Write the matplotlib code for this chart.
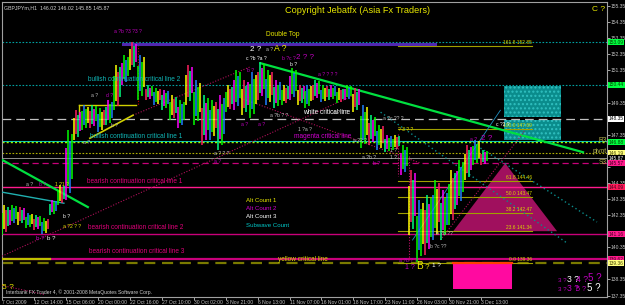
import numpy as np
import matplotlib
matplotlib.use("Agg")
import matplotlib.pyplot as plt
from matplotlib.transforms import blended_transform_factory
from matplotlib.patches import Polygon, Rectangle

plt.rcParams["font.family"] = ["Liberation Sans", "DejaVu Sans"]

# ---------------- data ----------------
# one bin = 16 hourly bars, high / low of each bin
bin_high = [142.97, 142.97, 142.85, 142.47, 142.35, 142.16, 143.28, 144.21, 147.63, 148.87,
            149.18, 149.18, 148.99, 149.49, 151.67, 152.29, 153.10, 152.29, 150.42, 150.24,
            150.11, 149.80, 149.49, 151.67, 150.73, 149.80, 149.49, 149.80, 150.42, 151.36,
            150.73, 151.23, 151.85, 151.36, 150.73, 150.42, 151.48, 150.42, 150.42, 150.73,
            150.42, 150.42, 150.24, 150.42, 150.24, 149.18, 148.56, 147.94, 147.32, 147.32,
            146.70, 145.14, 143.28, 143.59, 144.52, 143.90, 145.14, 145.77, 146.70, 147.01,
            146.39]
bin_low = [141.11, 141.73, 141.73, 141.54, 141.42, 141.17, 142.35, 142.97, 143.28, 147.01,
           147.63, 147.75, 147.50, 147.94, 148.87, 150.42, 151.36, 149.49, 149.49, 149.18,
           148.87, 148.25, 147.75, 149.18, 147.94, 146.70, 147.01, 146.39, 148.75, 148.87,
           148.56, 148.37, 149.49, 149.18, 148.99, 149.18, 149.49, 149.18, 148.99, 149.49,
           149.37, 149.49, 149.31, 149.49, 148.75, 146.51, 146.70, 146.39, 146.26, 146.39,
           144.83, 141.11, 139.43, 139.86, 140.80, 140.80, 141.73, 142.97, 144.52, 145.45,
           145.45]

date_labels = ["7 Oct 2009", "12 Oct 14:00", "15 Oct 06:00", "20 Oct 00:00", "22 Oct 16:00",
               "27 Oct 10:00", "30 Oct 02:00", "3 Nov 21:00", "6 Nov 13:00", "11 Nov 07:00",
               "16 Nov 01:00", "18 Nov 17:00", "23 Nov 11:00", "26 Nov 03:00", "30 Nov 21:00",
               "3 Dec 13:00"]
price_ticks = [155.35, 154.35, 153.35, 152.35, 151.35, 150.35, 149.35, 148.35, 147.35,
               146.35, 145.35, 144.35, 143.35, 142.35, 141.35, 140.35, 139.35, 138.35, 137.35]

# full-width horizontal levels: price, colour, style, width
h_levels = [
    (153.09, "#00a0a0", (0, (1.5, 1.5)), 0.8),
    (150.44, "#00a0a0", (0, (1.5, 1.5)), 0.8),
    (148.35, "#c0c0c0", (0, (7, 4)), 0.9),
    (146.94, "#00c8c8", "-", 0.7),
    (146.88, "#9aff00", (0, (1.5, 1.5)), 1.0),
    (146.19, "#b0b000", (0, (1.5, 1.5)), 0.8),
    (145.87, "#909090", "-", 0.7),
    (145.57, "#c8007a", (0, (5, 3)), 0.9),
    (144.09, "#ff1a8c", "-", 1.0),
    (141.16, "#c8007a", "-", 1.0),
    (139.62, "#c8007a", "-", 1.6),
    (139.36, "#7a7a00", (0, (5, 3)), 1.6),
]
# price labels boxed on the right axis: price, text, face colour, text colour
axis_boxes = [
    (153.09, "153.09", "#00ff40", "#004000"),
    (150.44, "150.44", "#00ff40", "#004000"),
    (148.35, "148.35", "#ffffff", "#000000"),
    (146.88, "146.88", "#00ff40", "#004000"),
    (146.19, "146.19", "#ffff80", "#404000"),
    (145.87, "145.87", "#000000", "#ffffff"),
    (145.57, "145.57", "#ff1a8c", "#400020"),
    (144.09, "144.09", "#ff1a5a", "#400020"),
    (141.16, "141.16", "#ff1a8c", "#400020"),
    (139.62, "139.62", "#ff1a8c", "#400020"),
    (139.36, "139.36", "#ffff80", "#404000"),
]

# fibonacci levels drawn between x 49.6 and 66.4
fib_ratio = ["161.8", "100.0", "61.8", "50.0", "38.2", "23.6", "0.0"]
fib_price = [152.85, 147.69, 144.46, 143.47, 142.47, 141.34, 139.36]

# trend lines: (x0, p0, x1, p1, colour, style, width)
trend_lines = [
    (32.4, 151.79, 72.75, 146.26, "#00e040", "-", 1.6),
    (0.1, 145.76, 10.75, 142.85, "#00e040", "-", 1.6),
    (0.1, 143.77, 7.75, 143.09, "#20b0b0", "-", 1.0),
    (0.0, 139.80, 44.0, 149.80, "#b0105a", (0, (1, 1.5)), 0.8),
    (16.4, 148.56, 31.0, 151.55, "#b0105a", (0, (1, 1.5)), 0.8),
    (29.9, 149.62, 52.4, 145.58, "#b0105a", (0, (1, 1.5)), 0.8),
    (0.0, 137.98, 5.4, 137.40, "#b0105a", (0, (1, 1.5)), 0.8),
    (54.9, 140.80, 65.5, 147.63, "#b0105a", (0, (1, 1.5)), 0.8),
    (47.4, 148.75, 70.75, 140.61, "#0a8a8a", (0, (1, 2)), 1.0),
    (59.9, 146.52, 74.5, 141.92, "#0a8a8a", (0, (1, 2)), 1.0),
    (51.4, 140.80, 62.4, 148.87, "#2090c0", "-", 0.6),
    (17.0, 153.10, 17.0, 149.20, "#c00000", (0, (1, 1.5)), 0.8),
    (50.9, 146.00, 50.9, 139.50, "#c0106a", (0, (1, 1.5)), 0.8),
    (49.6, 147.40, 49.6, 144.80, "#c0106a", (0, (1, 1.5)), 0.8),
    (15.1, 153.00, 54.25, 153.00, "#5028b0", "-", 2.2),
    (9.6, 149.18, 16.75, 149.18, "#d0d000", "-", 1.0),
    (9.6, 149.18, 9.6, 148.43, "#d0d000", "-", 1.0),
    (11.0, 147.13, 16.4, 148.56, "#d0d000", "-", 1.2),
]

# text on the chart: x, price, text, colour, size
chart_texts = [
    (10.75, 150.67, "bullish continuation critical line 2", "#10b8b8", 4.7),
    (11.0, 147.13, "bullish continuation critical line 1", "#10b8b8", 4.7),
    (37.75, 148.62, "white critical line", "#ffffff", 4.7),
    (36.5, 147.13, "magenta critical line", "#d000d0", 4.7),
    (10.6, 144.33, "bearish continuation critical line 1", "#e0007a", 4.7),
    (10.75, 141.48, "bearish continuation critical line 2", "#e0007a", 4.7),
    (10.9, 139.99, "bearish continuation critical line 3", "#e0007a", 4.7),
    (34.6, 139.49, "yellow critical line", "#d8d800", 4.7),
    (33.0, 153.47, "Double Top", "#e8e800", 4.8),
    (30.5, 143.15, "Alt Count 1", "#e8e800", 4.4),
    (30.5, 142.66, "Alt Count 2", "#d000d0", 4.4),
    (30.5, 142.17, "Alt Count 3", "#ffffff", 4.4),
    (30.5, 141.62, "Subwave Count", "#00c8c8", 4.4),
    (73.9, 155.05, "C ?", "#e8e800", 6.0),
    (0.0, 137.75, "5 ?", "#e8e800", 6.0),
]
# pivot names written just inside the right edge
pivot_texts = [(146.98, "R3"), (146.28, "pivot"), (145.60, "S3")]

# small wave count labels: x, price, text, colour, size
wave_texts = [
    (14.0, 153.65, "a ?b ?3 ?3 ?", "#c000c0", 3.6),
    (31.1, 152.55, "2 ?", "#ffffff", 5.8),
    (33.0, 152.55, "a ?", "#c0c0c0", 3.6),
    (34.0, 152.55, "A ?", "#e8e800", 6.2),
    (30.5, 152.02, "c ?b ?a ?", "#ffffff", 3.6),
    (35.1, 152.02, "b ?c ?", "#c000c0", 3.6),
    (36.8, 152.08, "2 ? ?", "#c000c0", 5.8),
    (36.0, 151.61, "b ?", "#ffffff", 3.6),
    (30.7, 151.23, "b ?", "#c000c0", 3.6),
    (39.6, 150.98, "a ? ? ? ?", "#c000c0", 3.6),
    (11.2, 149.68, "a ?", "#c0c0c0", 3.6),
    (13.0, 149.68, "d ?", "#c000c0", 3.6),
    (3.0, 144.15, "a ?", "#c0c0c0", 3.6),
    (4.6, 144.15, "b ?", "#c000c0", 3.6),
    (6.6, 144.15, "1 ?1 ?", "#e8e800", 3.6),
    (4.3, 140.80, "b ?", "#c000c0", 4.4),
    (5.6, 140.80, "b ?", "#ffffff", 4.4),
    (7.6, 141.54, "a ?2 ? ?", "#e8e800", 3.6),
    (7.6, 142.16, "b ?", "#ffffff", 3.6),
    (10.1, 146.76, "a ?", "#c0c0c0", 3.6),
    (13.6, 147.81, "b ?", "#c0c0c0", 3.6),
    (26.5, 146.08, "a ? ? ?", "#c0c0c0", 3.6),
    (26.5, 145.58, "a ?", "#c000c0", 3.6),
    (29.9, 147.87, "a ?", "#c000c0", 3.6),
    (32.0, 147.87, "a ?", "#c000c0", 3.6),
    (33.6, 148.44, "a ?b ? ?", "#c0c0c0", 3.6),
    (37.0, 147.56, "1 ?a ?", "#c0c0c0", 3.6),
    (41.5, 148.62, "a ? ? ?", "#c0c0c0", 3.6),
    (47.7, 148.25, "a ?c ?? ?", "#c0c0c0", 3.6),
    (49.6, 147.56, "? 3 ? ?", "#e8e800", 3.6),
    (43.9, 146.89, "a ?2 ?", "#c0c0c0", 3.6),
    (45.1, 145.83, "a ?b ?", "#c0c0c0", 3.6),
    (48.6, 146.27, "1 ?", "#c0c0c0", 3.6),
    (48.6, 145.83, "1 ?", "#c0c0c0", 3.6),
    (46.4, 145.45, "b ?", "#c000c0", 3.6),
    (61.9, 147.87, "c ?2 ?", "#ffffff", 3.6),
    (58.6, 146.93, "a ?", "#c000c0", 3.6),
    (60.0, 146.99, "2 ?", "#c000c0", 5.8),
    (49.7, 139.43, "a ?b ? ?", "#c000c0", 3.6),
    (50.4, 138.98, "1 ?", "#c000c0", 5.0),
    (51.9, 138.98, "B", "#e8e800", 7.2),
    (52.9, 138.98, "?", "#e8e800", 5.8),
    (53.9, 139.10, "1 ?", "#ffffff", 4.6),
    (53.6, 140.30, "b ?c ??", "#c0c0c0", 3.6),
    (54.3, 141.11, "b ?b ??", "#c0c0c0", 3.6),
    (69.6, 138.21, "3 ?", "#c000c0", 4.4),
    (70.7, 138.21, "3 ?", "#ffffff", 6.2),
    (71.9, 138.21, "4 ?", "#c000c0", 6.2),
    (73.4, 138.28, "5 ?", "#c000c0", 7.0),
    (69.6, 137.61, "3 ?", "#c000c0", 4.4),
    (70.7, 137.61, "3 ?", "#c000c0", 6.2),
    (71.9, 137.61, "5 ?", "#c000c0", 5.2),
    (73.2, 137.61, "5 ?", "#ffffff", 7.0),
]

# ---------------- figure ----------------
fig = plt.figure(figsize=(6.25, 3.05), dpi=100, facecolor="black")
ax = fig.add_axes([2 / 625, 8.5 / 305, 605 / 625, 294.5 / 305])
ax.set_facecolor("black")
ax.set_xlim(0.1, 75.75)
ax.set_ylim(137.29, 155.6)

# horizontal levels
for price, col, ls, lw in h_levels:
    ax.axhline(price, color=col, linestyle=ls, linewidth=lw, zorder=2)
# the left part of the yellow critical line
ax.plot([0.1, 6.0], [139.62, 139.62], color="#c0c000", linewidth=1.6, zorder=3)

# boxes and triangle
ax.add_patch(Rectangle((62.9, 148.43), 7.1, 1.93, facecolor="#0a8c8c", edgecolor="#30c0c0",
                       hatch="....", linewidth=0, zorder=1))
ax.add_patch(Rectangle((62.9, 147.01), 7.1, 1.23, facecolor="#0a8c8c", edgecolor="#30c0c0",
                       hatch="....", linewidth=0, zorder=1))
ax.add_patch(Polygon([(63.0, 145.58), (56.5, 141.35), (69.5, 141.35)], closed=True,
                     facecolor="#a0105e", edgecolor="none", zorder=1))
ax.add_patch(Rectangle((56.5, 137.76), 7.4, 1.61, facecolor="#ff0aa0", edgecolor="none", zorder=4))
ax.plot([56.5, 63.9], [139.37, 139.37], color="#ff4000", linewidth=1.6, zorder=5)

# fibonacci lines
for r, p in zip(fib_ratio, fib_price):
    ax.plot([49.6, 66.4], [p, p], color="#a0a000", linewidth=0.8, zorder=2)
    ax.text(66.4, p + 0.08, f"{r} {p:.2f}", color="#d8d800", fontsize=3.5, ha="right",
            va="bottom", zorder=6)

# trend lines
for x0, p0, x1, p1, col, ls, lw in trend_lines:
    ax.plot([x0, x1], [p0, p1], color=col, linestyle=ls, linewidth=lw, zorder=3)

# price bars, four thin candles per bin
bar_cols = ["#00ff00", "#ff00ff", "#ffff00", "#00ff00", "#ff2060", "#2080ff", "#00ff80"]
parts = [(0.0, 0.75), (0.2, 1.0), (0.1, 0.85), (0.3, 0.95)]
xs = np.arange(len(bin_high)) + 0.375
for i, (x, hi, lo) in enumerate(zip(xs, bin_high, bin_low)):
    rng = hi - lo
    for j, (a, b) in enumerate(parts):
        ax.vlines(x - 0.375 + j * 0.25, lo + rng * a, lo + rng * b,
                  color=bar_cols[(i + j * 2) % len(bar_cols)], linewidth=1.1, zorder=4)

# texts
for x, p, t, col, fs in chart_texts + wave_texts:
    ax.text(x, p, t, color=col, fontsize=fs, ha="left", va="baseline", zorder=7)
for p, t in pivot_texts:
    ax.text(75.7, p, t, color="#b8b850", fontsize=4.8, ha="right", va="center", zorder=7)

ax.text(0.004, 0.99, "GBPJPYm,H1  146.02 146.02 145.85 145.87", transform=ax.transAxes,
        color="#d0d0d0", fontsize=3.8, ha="left", va="top")
ax.text(0.467, 0.985, "Copyright Jebatfx (Asia Fx Traders)", transform=ax.transAxes,
        color="#e8e800", fontsize=6.6, ha="left", va="top")
ax.text(0.006, 0.006, "Interbank FX Trader 4, \u00a9 2001-2008 MetaQuotes Software Corp.",
        transform=ax.transAxes, color="#d0d0d0", fontsize=3.6, ha="left", va="bottom")

# axes; tick labels hidden where a boxed price label sits
box_prices = [b[0] for b in axis_boxes]
ax.yaxis.tick_right()
ax.set_yticks(price_ticks)
ax.set_yticklabels([f"{p:.2f}" if min(abs(p - q) for q in box_prices) > 0.25 else ""
                    for p in price_ticks])
ax.set_xticks(np.arange(len(date_labels)) * 4)
ax.set_xticklabels(date_labels, ha="left")
ax.tick_params(colors="#c0c0c0", labelsize=3.6, length=2, width=0.6, pad=0.8)
for s in ax.spines.values():
    s.set_color("#a0a0a0")
    s.set_linewidth(0.8)

trans = blended_transform_factory(ax.transAxes, ax.transData)
for p, t, fc, tc in axis_boxes:
    ax.text(1.003, p, t, transform=trans, color=tc, fontsize=3.5, ha="left", va="center",
            bbox=dict(boxstyle="square,pad=0.12", fc=fc, ec="none"), zorder=8, clip_on=False)

fig.savefig("out.png", dpi=100, facecolor="black")
